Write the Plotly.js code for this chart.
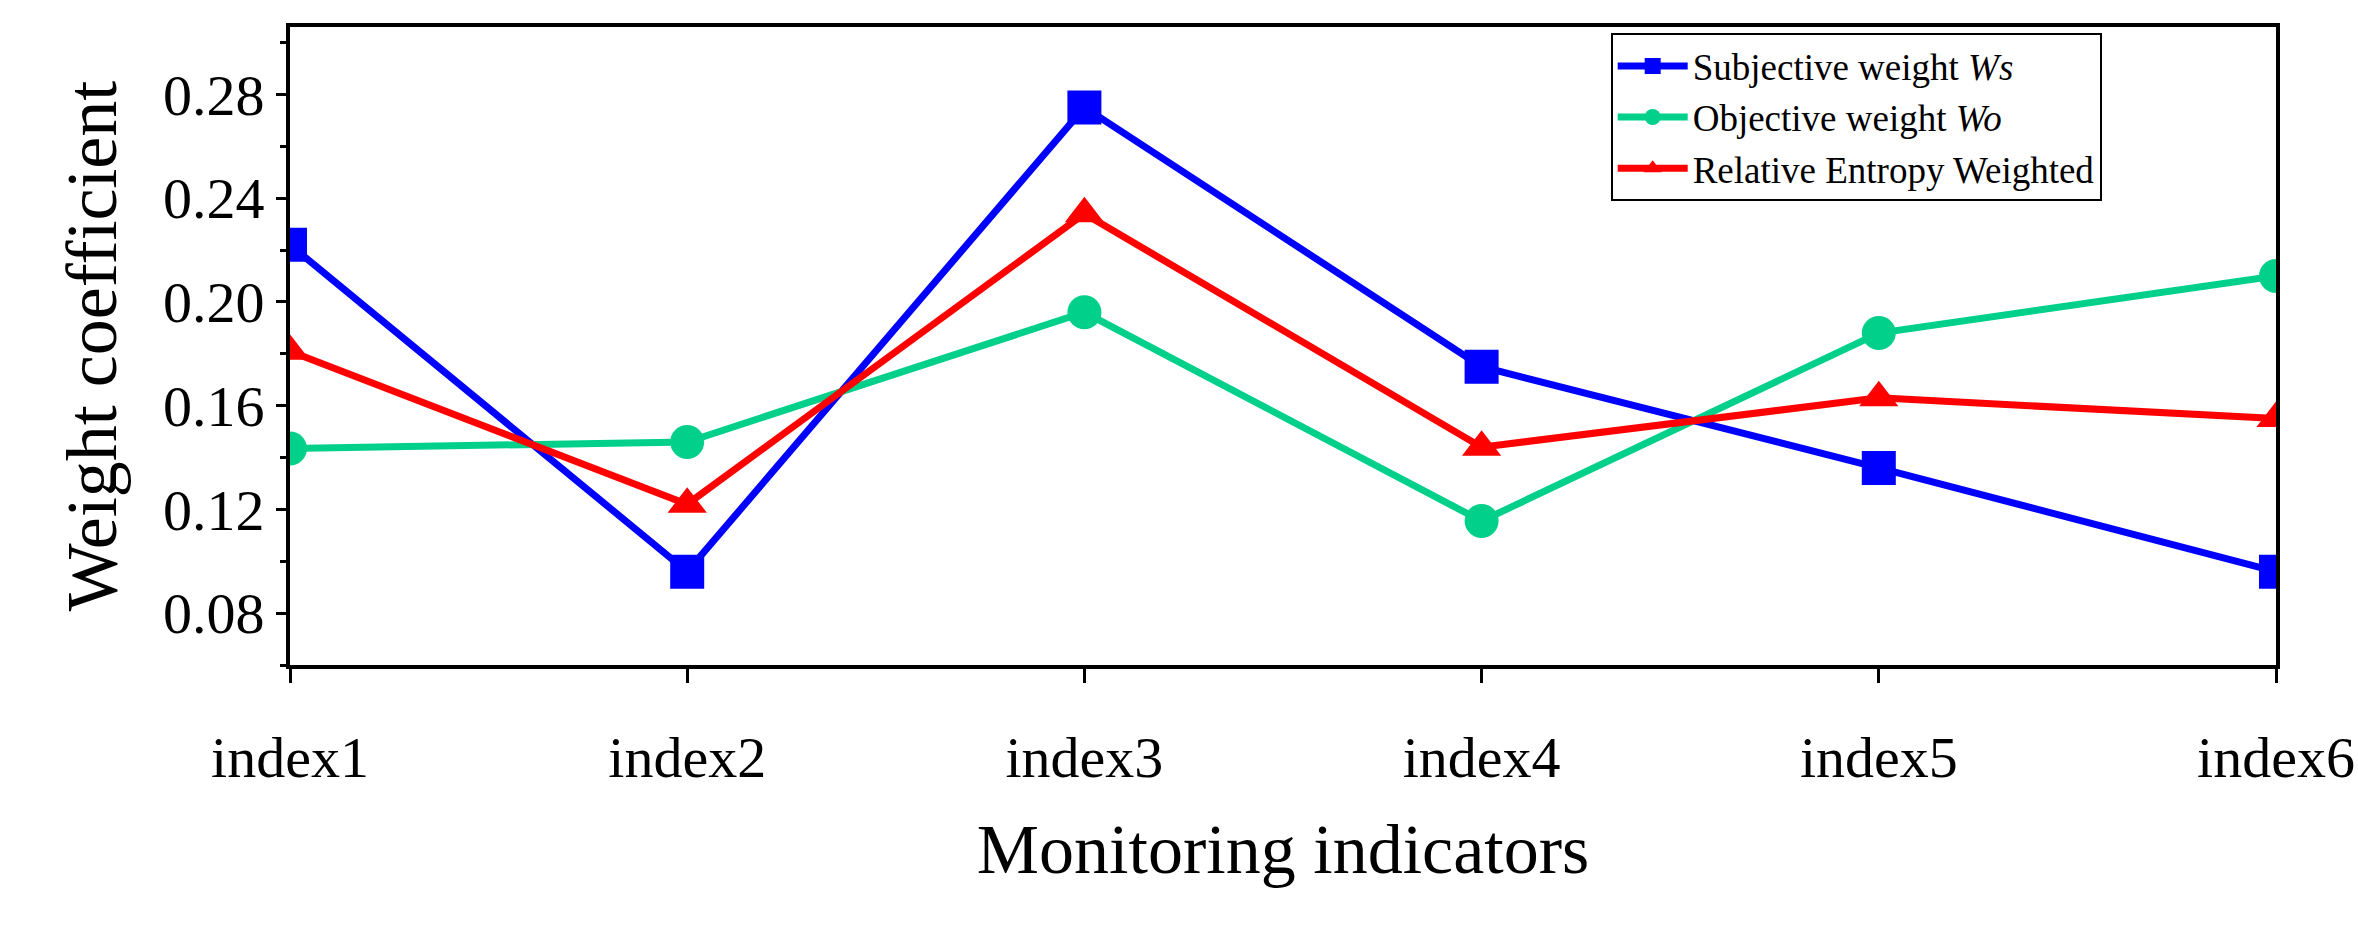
<!DOCTYPE html>
<html>
<head>
<meta charset="utf-8">
<script src="https://cdn.plot.ly/plotly-3.0.1.min.js"></script>
<style>body{margin:0;background:#fff}#chart{width:2358px;height:926px}</style>
</head>
<body>
<div id="chart"></div>
<script>
// values
var indicators = ['index1', 'index2', 'index3', 'index4', 'index5', 'index6'];
var subjective = [0.222, 0.096, 0.275, 0.175, 0.136, 0.096];
var objective = [0.1435, 0.146, 0.196, 0.1155, 0.188, 0.210];
var relative = [0.181, 0.122, 0.234, 0.144, 0.163, 0.155];
var yTicks = [0.08, 0.12, 0.16, 0.20, 0.24, 0.28];

function trace(y, name, color, symbol) {
    return {
        x: indicators,
        y: y,
        name: name,
        mode: 'lines+markers',
        line: { color: color, width: 7 },
        marker: { color: color, symbol: symbol, size: 34 }
    };
}

var data = [
    trace(subjective, 'Subjective weight <i>Ws</i>', '#0000ff', 'square'),
    trace(objective, 'Objective weight <i>Wo</i>', '#00d08a', 'circle'),
    trace(relative, 'Relative Entropy Weighted', '#ff0000', 'triangle-up')
];

var font = { family: 'Liberation Serif, Times New Roman, serif', color: '#000' };

var layout = {
    width: 2358,
    height: 926,
    margin: { l: 290, r: 82, t: 27, b: 261 },
    paper_bgcolor: '#fff',
    plot_bgcolor: '#fff',
    font: font,
    showlegend: true,
    legend: {
        x: 0.665, y: 0.99, xanchor: 'left', yanchor: 'top',
        bordercolor: '#000', borderwidth: 2,
        font: { family: font.family, size: 37 },
        itemwidth: 70, tracegroupgap: 0
    },
    xaxis: {
        type: 'category',
        range: [0, 5],
        showgrid: false,
        showline: true, linecolor: '#000', linewidth: 4, mirror: true,
        ticks: 'outside', ticklen: 14, tickwidth: 3, tickcolor: '#000',
        ticklabelstandoff: 24,
        minor: { ticks: 'outside', ticklen: 8, tickwidth: 3, tickcolor: '#000', dtick: 0.5 },
        tickfont: { family: font.family, size: 58 },
        title: { text: 'Monitoring indicators', font: { family: font.family, size: 70 }, standoff: 36 }
    },
    yaxis: {
        range: [0.06, 0.306],
        tickvals: yTicks,
        ticktext: yTicks.map(function (v) { return v.toFixed(2); }),
        showgrid: false, zeroline: false,
        showline: true, linecolor: '#000', linewidth: 4, mirror: true,
        ticks: 'outside', ticklen: 10, tickwidth: 3, tickcolor: '#000',
        minor: { ticks: 'outside', ticklen: 6, tickwidth: 3, tickcolor: '#000', dtick: 0.02 },
        tickfont: { family: font.family, size: 58 },
        title: { text: 'Weight coefficient', font: { family: font.family, size: 72 }, standoff: 24 }
    }
};

Plotly.newPlot('chart', data, layout, { staticPlot: true });
</script>
</body>
</html>
